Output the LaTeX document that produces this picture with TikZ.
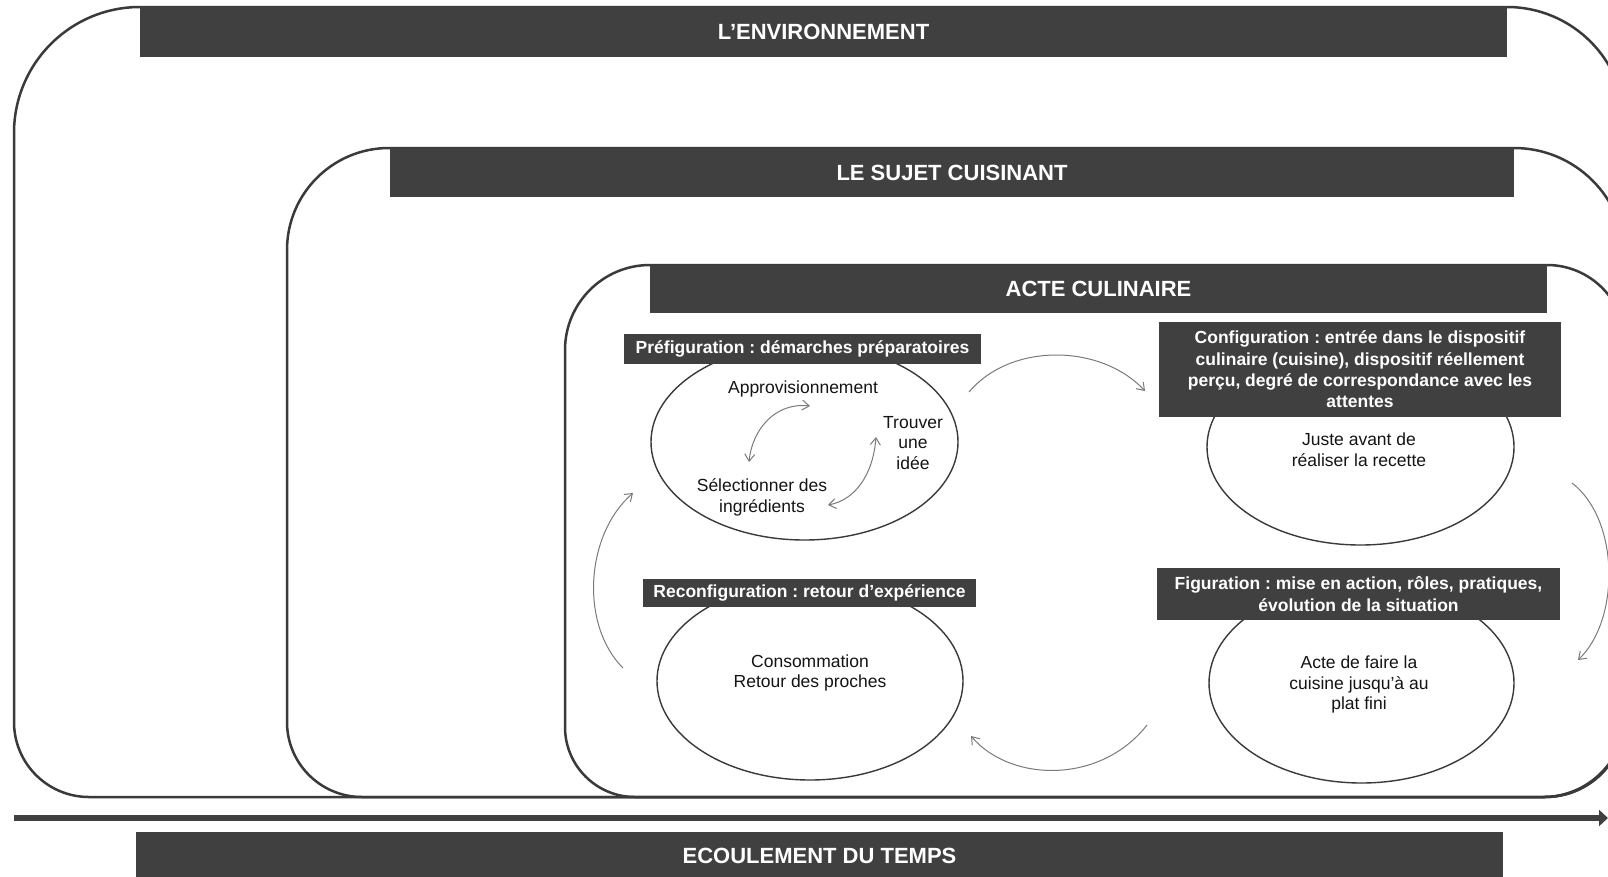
\documentclass[tikz,border=0pt]{standalone}
\usepackage{fontspec}
\setmainfont{Liberation Sans}
\usetikzlibrary{arrows.meta,shapes.geometric}
\definecolor{dk}{HTML}{404040}
\definecolor{fr}{HTML}{3A3A3A}
\definecolor{ar}{HTML}{7A7A7A}
\definecolor{tx}{HTML}{141414}
\begin{document}
\frenchspacing
\begin{tikzpicture}[x=1pt,y=-1pt,
  frame/.style={draw=fr,line width=2.5pt},
  banner/.style={fill=dk,text=white,font=\fontsize{22}{26}\selectfont\bfseries,inner sep=0pt},
  lab/.style={fill=dk,text=white,font=\fontsize{17.5}{21.3}\selectfont\bfseries,align=center,inner sep=0pt},
  ell/.style={ellipse,draw=fr,line width=1.4pt,inner sep=0pt},
  txt/.style={text=tx,font=\fontsize{17.5}{20.8}\selectfont,align=center,inner sep=0pt},
  conn/.style={draw=ar,line width=1pt,-{Straight Barb[length=7pt,width=10pt]}},
  dconn/.style={draw=ar,line width=1pt,{Straight Barb[length=7pt,width=10pt]}-{Straight Barb[length=7pt,width=10pt]}}]
\useasboundingbox (0,0) rectangle (1608,876);
\clip (0,0) rectangle (1608,876);
\fill[white] (0,0) rectangle (1608,876);

% nested frames
\draw[frame] (89,797) arc[start angle=90,end angle=180,radius=75] -- (14,133)
  arc[start angle=180,end angle=270,radius=126] -- (1507,7)
  arc[start angle=270,end angle=360,radius=118] -- (1625,717)
  arc[start angle=0,end angle=90,radius=80] -- cycle;
\draw[frame] (362,797) arc[start angle=90,end angle=180,radius=75] -- (287,250)
  arc[start angle=180,end angle=270,radius=102] -- (1514,148)
  arc[start angle=270,end angle=360,radius=111] -- (1625,717)
  arc[start angle=0,end angle=90,radius=80] -- cycle;
\draw[frame] (635,797) arc[start angle=90,end angle=180,radius=70] -- (565,350)
  arc[start angle=180,end angle=270,radius=85] -- (1547,265)
  arc[start angle=270,end angle=360,radius=78] -- (1625,715)
  arc[start angle=0,end angle=90,radius=82] -- cycle;

% banners
\node[banner,minimum width=1367pt,minimum height=50pt] (bA) at (823.5,32) {L’ENVIRONNEMENT};
\node[banner,minimum width=1124pt,minimum height=49pt] (bB) at (952,172.5) {LE SUJET CUISINANT};
\node[banner,minimum width=897pt,minimum height=48pt] (bC) at (1098.5,289) {ACTE CULINAIRE};
\node[banner,minimum width=1367pt,minimum height=48pt] (bD) at (819.5,856) {ECOULEMENT DU TEMPS};

% time arrow
\coordinate (t0) at (14,818);
\coordinate (t1) at (1608,818);
\draw[dk,line width=6pt,-{Triangle[length=9pt,width=16pt]}] (t0) -- (t1);

% ellipses
\node[ell,minimum width=307pt,minimum height=196pt] (e1) at (804.5,442) {};
\node[ell,minimum width=307pt,minimum height=196pt] (e2) at (1360.5,447) {};
\node[ell,minimum width=305pt,minimum height=200pt] (e3) at (1361.5,683) {};
\node[ell,minimum width=306pt,minimum height=198pt] (e4) at (810,681) {};

% stage labels
\node[lab,minimum width=357pt,minimum height=30pt] (l1) at (802.5,349) {Préfiguration : démarches préparatoires};
\node[lab,minimum width=402pt,minimum height=95pt] (l2) at (1360,369.5) {Configuration : entrée dans le dispositif\\culinaire (cuisine), dispositif réellement\\perçu, degré de correspondance avec les\\attentes};
\node[lab,minimum width=403pt,minimum height=52pt] (l3) at (1358.5,594) {Figuration : mise en action, rôles, pratiques,\\évolution de la situation};
\node[lab,minimum width=333pt,minimum height=28pt] (l4) at (809.5,593) {Reconfiguration : retour d’expérience};

% texts
\node[txt] (appro) at (803,389) {Approvisionnement};
\node[txt] (idee) at (913,443) {Trouver\\une\\idée};
\node[txt] (sel) at (762,497) {Sélectionner des\\ingrédients};
\node[txt] (juste) at (1359,450) {Juste avant de\\réaliser la recette};
\node[txt] (acte) at (1359,684.5) {Acte de faire la\\cuisine jusqu'à au\\plat fini};
\node[txt] (conso) at (810,673) {Consommation\\Retour des proches};

% inner arrows
\coordinate (a1s) at (810,406);
\coordinate (a1e) at (749,462);
\coordinate (a2s) at (876,437);
\coordinate (a2e) at (828,505);
\draw[dconn] (a1s) .. controls (775,402) and (752,430) .. (a1e);
\draw[dconn] (a2s) .. controls (873,475) and (855,500) .. (a2e);

% cycle arrows
\coordinate (c1s) at (969,392);
\coordinate (c1e) at (1145,391);
\coordinate (c2s) at (1572,483);
\coordinate (c2e) at (1578,660);
\coordinate (c3s) at (1147,725);
\coordinate (c3e) at (971,736);
\coordinate (c4s) at (623,668);
\coordinate (c4e) at (633,493);
\draw[conn] (c1s) .. controls (1010,343) and (1100,343) .. (c1e);
\draw[conn] (c2s) .. controls (1620,520) and (1620,620) .. (c2e);
\draw[conn] (c3s) .. controls (1100,785) and (1010,782) .. (c3e);
\draw[conn] (c4s) .. controls (580,625) and (585,535) .. (c4e);
\end{tikzpicture}
\end{document}
